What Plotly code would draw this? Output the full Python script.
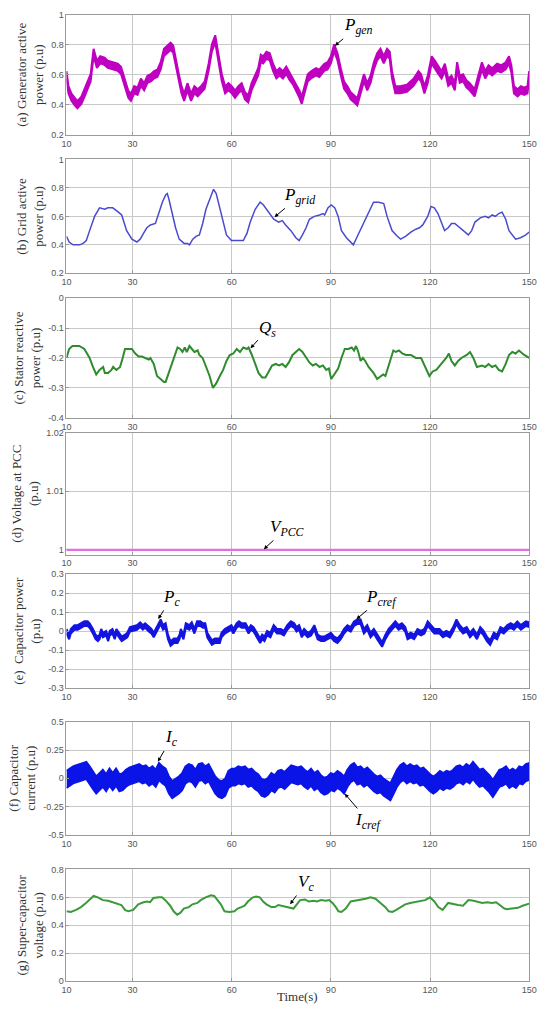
import plotly.graph_objects as go

# ---------------- data ----------------
x_ticks = [10, 30, 60, 90, 120, 150]

p_gen = [(10, 0.60), (10.6, 0.50), (11.5, 0.45), (12.5, 0.42), (13.3, 0.40), (14.5, 0.43), (15.5, 0.48),
         (16.5, 0.53), (17.3, 0.58), (18.2, 0.75), (19.2, 0.67), (20.2, 0.70), (21.5, 0.69), (22.5, 0.67),
         (24, 0.66), (25.5, 0.65), (26.5, 0.63), (27.5, 0.55), (28.7, 0.47), (29.5, 0.45), (30.5, 0.50),
         (31.5, 0.49), (32.5, 0.55), (33.5, 0.52), (34.5, 0.57), (35.5, 0.58), (36.5, 0.60), (37.5, 0.61),
         (38.5, 0.66), (39.5, 0.75), (40.5, 0.77), (41.5, 0.79), (42.3, 0.77), (43, 0.68), (44, 0.58),
         (44.8, 0.50), (45.6, 0.45), (46.6, 0.52), (47.7, 0.45), (48.7, 0.50), (49.7, 0.48), (50.7, 0.50),
         (51.8, 0.53), (53, 0.65), (54, 0.78), (55, 0.84), (56, 0.72), (57, 0.58), (58, 0.50), (59, 0.52),
         (60, 0.50), (61, 0.47), (62, 0.50), (63, 0.52), (64, 0.46), (65, 0.44), (66, 0.52), (67, 0.57),
         (68, 0.62), (68.8, 0.71), (69.5, 0.70), (70.5, 0.73), (71.5, 0.72), (72.5, 0.65), (73.5, 0.60),
         (74.5, 0.62), (75.5, 0.60), (76.5, 0.63), (77.5, 0.59), (78.5, 0.56), (79.5, 0.52), (80.5, 0.47),
         (81.2, 0.43), (82, 0.50), (83, 0.58), (84, 0.60), (85.5, 0.62), (86.5, 0.61), (88, 0.65),
         (89, 0.66), (90, 0.70), (91, 0.78), (92, 0.72), (93, 0.62), (94, 0.53), (95, 0.50), (96, 0.46),
         (97, 0.44), (98, 0.42), (99, 0.50), (100, 0.58), (101, 0.52), (102, 0.57), (103, 0.66),
         (104, 0.72), (105, 0.75), (106, 0.70), (107, 0.75), (107.8, 0.73), (108.5, 0.60), (109.5, 0.50),
         (111, 0.50), (113, 0.51), (115, 0.55), (116.5, 0.60), (117.3, 0.58), (118.3, 0.50), (119.3, 0.57),
         (120.5, 0.70), (121.5, 0.67), (122.5, 0.63), (123.5, 0.60), (124.5, 0.65), (125.5, 0.55),
         (126.5, 0.57), (127.5, 0.52), (128.2, 0.66), (129, 0.57), (130, 0.58), (131, 0.54), (132, 0.52),
         (133.5, 0.48), (134.7, 0.58), (135.7, 0.66), (136.7, 0.60), (137.7, 0.64), (138.8, 0.62),
         (140.3, 0.65), (141.5, 0.64), (142.9, 0.66), (143.9, 0.70), (144.6, 0.64), (145.4, 0.50),
         (146.5, 0.48), (147.5, 0.50), (148.5, 0.49), (149.5, 0.50), (150, 0.60)]

p_grid = [(10, 0.46), (10.8, 0.42), (12, 0.40), (14, 0.40), (15, 0.41), (16, 0.43), (17, 0.50), (18.5, 0.60),
          (20, 0.66), (21.6, 0.65), (22.5, 0.66), (24, 0.66), (25.7, 0.63), (26.7, 0.61), (28.2, 0.50),
          (29.8, 0.44), (31.3, 0.42), (32.3, 0.44), (33.3, 0.48), (34.3, 0.52), (35.4, 0.54), (36.9, 0.55),
          (37.9, 0.62), (39, 0.70), (40, 0.75), (40.5, 0.76), (41, 0.72), (42, 0.62), (43, 0.52), (44.1, 0.44),
          (45.6, 0.41), (46.6, 0.41), (47.2, 0.40), (48.2, 0.44), (49.2, 0.46), (50.2, 0.47), (51.2, 0.55),
          (52.2, 0.65), (53.8, 0.74), (54.5, 0.79), (55.3, 0.76), (56.3, 0.66), (57.4, 0.55), (58.4, 0.47),
          (59.9, 0.43), (62, 0.43), (63.5, 0.43), (64.6, 0.48), (65.6, 0.56), (67.1, 0.65), (68.6, 0.70),
          (69.6, 0.68), (71.2, 0.63), (72.7, 0.58), (74.2, 0.56), (75.3, 0.57), (76.3, 0.54), (77.9, 0.50),
          (79.4, 0.45), (80.4, 0.43), (81.4, 0.47), (82.5, 0.52), (83.5, 0.58), (85, 0.60), (86.6, 0.61),
          (87.6, 0.62), (88.1, 0.61), (89.1, 0.66), (90.1, 0.68), (91.2, 0.66), (92.2, 0.60), (93.2, 0.50),
          (94.7, 0.45), (95.8, 0.42), (96.8, 0.40), (97.8, 0.45), (98.8, 0.50), (99.9, 0.55), (100.9, 0.60),
          (101.9, 0.66), (102.9, 0.70), (104.5, 0.70), (106, 0.69), (107, 0.60), (108.5, 0.50), (110.1, 0.46),
          (111.1, 0.44), (112.6, 0.46), (114.2, 0.49), (115.7, 0.51), (116.8, 0.52), (117.8, 0.54),
          (119.3, 0.60), (120.3, 0.67), (121.3, 0.66), (122.4, 0.62), (123.4, 0.56), (124.4, 0.50),
          (125.5, 0.52), (126.5, 0.55), (127.5, 0.55), (128.5, 0.53), (130, 0.50), (131.6, 0.47),
          (132.6, 0.50), (133.6, 0.56), (135.2, 0.59), (136.7, 0.60), (137.7, 0.59), (138.8, 0.61),
          (139.8, 0.60), (140.8, 0.62), (141.8, 0.63), (142.9, 0.58), (143.9, 0.50), (144.9, 0.47),
          (145.9, 0.44), (147.4, 0.45), (149, 0.47), (150, 0.49)]

q_s = [(10, -0.20), (10.8, -0.17), (11.8, -0.16), (13.9, -0.16), (15.4, -0.17), (17, -0.20), (18, -0.23),
       (19, -0.255), (20, -0.24), (21.1, -0.23), (21.6, -0.25), (22.6, -0.25), (23.6, -0.24), (24.1, -0.23),
       (25.1, -0.24), (26.2, -0.23), (27, -0.20), (27.7, -0.17), (28.7, -0.17), (29.8, -0.17),
       (30.8, -0.185), (31.8, -0.195), (32.8, -0.195), (33.8, -0.20), (34.9, -0.205), (35.4, -0.20),
       (36.4, -0.22), (37.4, -0.26), (38.5, -0.27), (39.5, -0.28), (40, -0.28), (41, -0.25), (42, -0.22),
       (42.5, -0.20), (43.6, -0.165), (44.4, -0.17), (45.1, -0.18), (45.8, -0.165), (46.4, -0.18),
       (47.2, -0.16), (48, -0.17), (48.7, -0.18), (49.7, -0.175), (50.2, -0.19), (51.2, -0.20),
       (52.3, -0.23), (53.3, -0.26), (54.3, -0.30), (55.3, -0.285), (56.4, -0.26), (57.4, -0.24),
       (58.4, -0.21), (59.4, -0.19), (60.5, -0.185), (61.5, -0.17), (62.5, -0.18), (63.5, -0.165),
       (64.6, -0.17), (65.1, -0.165), (66.1, -0.19), (67.1, -0.22), (68.1, -0.25), (69.2, -0.265),
       (70.2, -0.265), (71.2, -0.245), (72.2, -0.225), (73.3, -0.22), (74.3, -0.225), (75.3, -0.22),
       (76.3, -0.23), (77.3, -0.215), (78.4, -0.19), (79.4, -0.18), (80.4, -0.17), (81.4, -0.18),
       (82.5, -0.20), (83.5, -0.215), (84.5, -0.225), (85.5, -0.22), (86.6, -0.23), (87.6, -0.225),
       (88.6, -0.24), (89.4, -0.235), (90.1, -0.27), (91.2, -0.25), (92.2, -0.235), (93.2, -0.20),
       (94.2, -0.17), (95.3, -0.17), (96.3, -0.165), (97, -0.175), (97.6, -0.16), (98.3, -0.18),
       (99, -0.21), (99.7, -0.20), (100.4, -0.21), (101.4, -0.23), (102.9, -0.25), (104, -0.27),
       (105, -0.26), (105.8, -0.255), (106.5, -0.26), (108.1, -0.20), (108.9, -0.175), (109.6, -0.18),
       (110.6, -0.175), (111.6, -0.185), (112.7, -0.19), (114.2, -0.19), (115.7, -0.20), (117.3, -0.20),
       (118.8, -0.235), (119.8, -0.26), (120.8, -0.245), (121.9, -0.24), (123.4, -0.22), (124.9, -0.20),
       (125.7, -0.185), (126.5, -0.21), (127.5, -0.225), (128.5, -0.21), (129.5, -0.20), (131.1, -0.19),
       (132.1, -0.18), (133.1, -0.20), (134.2, -0.23), (135.7, -0.225), (136.7, -0.23), (137.7, -0.22),
       (138.8, -0.23), (139.8, -0.225), (140.8, -0.24), (141.8, -0.245), (142.9, -0.22), (143.9, -0.19),
       (144.9, -0.18), (145.9, -0.185), (146.9, -0.175), (148.5, -0.19), (150, -0.20)]

v_pcc = [(10, 1.0), (150, 1.0)]

p_c = [(10, 0.0), (10.8, -0.03), (11.3, 0.0), (12.4, 0.02), (13.4, 0.02), (14.4, 0.03), (15.4, 0.04),
       (16.4, 0.04), (17, 0.03), (18, 0.0), (18.8, -0.03), (19.5, -0.04), (20, -0.03), (20.5, 0.0),
       (21, -0.02), (22, -0.01), (22.6, -0.04), (23.1, -0.01), (23.9, 0.0), (24.6, -0.03), (25.1, 0.0),
       (25.9, -0.02), (26.7, -0.04), (27.7, -0.03), (28.4, -0.02), (29.2, 0.01), (30.2, 0.015),
       (31.3, 0.02), (32.3, 0.035), (33.1, 0.02), (33.8, 0.03), (34.9, 0.01), (35.7, 0.0), (36.4, -0.02),
       (37.1, 0.0), (37.6, 0.02), (38.5, 0.05), (39.2, 0.02), (40, 0.03), (40.7, -0.03), (41.5, -0.065),
       (42.5, -0.05), (43.6, -0.05), (44.2, -0.03), (44.6, 0.0), (45.4, -0.03), (46.1, 0.03), (47.2, 0.02),
       (47.9, 0.035), (48.7, 0.0), (49.5, 0.04), (50.5, 0.04), (51.3, 0.03), (52, 0.03), (52.6, -0.02),
       (53.3, -0.04), (54, -0.06), (54.9, -0.05), (56.4, -0.05), (56.9, -0.02), (57.9, 0.0), (58.9, 0.01),
       (59.9, 0.02), (60.5, 0.0), (61.5, 0.03), (62.2, 0.04), (63, 0.03), (64.2, 0.03), (65.1, 0.0),
       (65.8, 0.02), (66.6, 0.01), (67.6, -0.02), (68.6, -0.05), (69.2, -0.03), (69.9, -0.04),
       (70.7, -0.01), (71.7, -0.02), (72.7, 0.02), (73.7, 0.0), (74.8, 0.0), (75.8, -0.01), (76.8, 0.02),
       (77.9, 0.04), (78.9, 0.03), (79.6, 0.01), (80.4, 0.02), (81.2, -0.02), (81.9, 0.0), (83, -0.02),
       (84, -0.01), (85, 0.02), (86, -0.03), (87, -0.04), (88, -0.04), (89.1, -0.03), (90, -0.02),
       (91, -0.04), (92, -0.05), (93, -0.03), (94, 0.0), (95, 0.02), (96, 0.01), (97, 0.04), (98, 0.05),
       (99, 0.05), (100, 0.0), (101, 0.02), (102, -0.02), (103, 0.0), (104, -0.03), (105.5, -0.07),
       (106.5, -0.03), (107.5, 0.0), (108.5, 0.02), (109.5, 0.04), (110.5, 0.02), (111.5, 0.03),
       (112.5, 0.01), (113.2, -0.03), (114.2, -0.02), (115.2, -0.03), (116.2, 0.0), (117.3, -0.01),
       (118.3, 0.0), (119.3, 0.04), (120.3, 0.02), (121.3, 0.0), (122.9, 0.0), (123.9, -0.02),
       (124.9, -0.01), (126, -0.02), (127, 0.01), (128, 0.05), (129, 0.02), (130, 0.0), (131.1, 0.01),
       (132.1, -0.02), (133.1, 0.0), (134.2, -0.03), (135.2, 0.01), (136.2, -0.01), (137.2, -0.04),
       (138.2, -0.06), (139.3, -0.02), (140.3, -0.03), (141.3, 0.01), (142.3, 0.0), (143.4, 0.02),
       (144.4, 0.03), (145.4, 0.02), (146.4, 0.04), (147.5, 0.02), (149, 0.04), (150, 0.035)]

i_c = [(10, -0.01), (11, 0.01), (12, 0.03), (13, 0.04), (14, 0.05), (15, 0.06), (16, 0.07), (17, 0.03),
       (18, -0.02), (19, -0.06), (20, -0.03), (21, 0.0), (22, -0.04), (23, 0.01), (24, -0.03), (25, 0.01),
       (26, -0.04), (27, -0.03), (28, 0.0), (29, 0.02), (30, 0.03), (31, 0.04), (32, 0.05), (33, 0.03),
       (34, 0.04), (35, 0.01), (36, 0.03), (37, 0.0), (38, 0.06), (39, 0.03), (40, 0.01), (41, -0.06),
       (42, -0.1), (43, -0.08), (44, -0.06), (45, -0.03), (46, 0.03), (47, 0.05), (48, 0.04), (49, 0.0),
       (50, 0.05), (51, 0.06), (52, 0.03), (53, 0.05), (54, -0.01), (55, -0.06), (56, -0.09), (57, -0.1),
       (58, -0.08), (59, -0.01), (60, 0.01), (61, 0.01), (62, 0.03), (63, 0.02), (64, 0.03), (65, 0.0),
       (66, 0.01), (67, -0.02), (68, -0.04), (69, -0.08), (70, -0.09), (71, -0.07), (72, -0.03),
       (73, -0.05), (74, -0.01), (75, 0.0), (76, -0.02), (77, 0.01), (78, 0.04), (79, 0.03), (80, 0.02),
       (81, 0.03), (82, 0.0), (83, -0.02), (84, 0.01), (85, -0.03), (86, -0.01), (87, -0.05), (88, -0.07),
       (89, -0.06), (90, -0.03), (91, -0.04), (92, -0.01), (93, -0.03), (94, -0.06), (95, 0.0), (96, 0.04),
       (97, 0.06), (98, 0.02), (99, 0.03), (100, 0.0), (101, 0.02), (102, -0.01), (103, -0.04),
       (104, -0.06), (105, -0.05), (106, -0.08), (107, -0.1), (108, -0.12), (109, -0.06), (110, 0.0),
       (111, 0.04), (112, 0.06), (113, 0.03), (114, 0.05), (115, 0.03), (116, 0.04), (117, 0.01),
       (118, 0.02), (119, -0.01), (120, -0.04), (121, -0.06), (122, -0.04), (123, -0.01), (124, -0.03),
       (125, -0.01), (126, -0.02), (127, 0.0), (128, 0.03), (129, 0.04), (130, 0.02), (131, 0.05),
       (132, 0.03), (133, 0.07), (134, 0.03), (135, 0.0), (136, 0.01), (137, -0.02), (138, -0.05),
       (139, -0.09), (140, -0.04), (141, 0.0), (142, 0.01), (143, 0.03), (144, -0.01), (145, 0.01),
       (146, -0.01), (147, 0.03), (148, 0.02), (149, 0.05), (150, 0.06)]

v_c = [(10, 0.50), (11.3, 0.495), (12.9, 0.51), (14.4, 0.53), (15.9, 0.56), (17.4, 0.59), (18.2, 0.61),
       (19.5, 0.60), (21, 0.58), (22.6, 0.575), (24.1, 0.565), (25.6, 0.555), (26.6, 0.545), (27.7, 0.51),
       (28.7, 0.50), (30.2, 0.51), (31.7, 0.55), (33.3, 0.565), (34.3, 0.57), (35.3, 0.565), (36.3, 0.595),
       (37.9, 0.60), (38.9, 0.60), (39.9, 0.58), (41.4, 0.54), (42.4, 0.50), (43.5, 0.475), (44.5, 0.49),
       (45.5, 0.52), (47, 0.53), (48.1, 0.55), (49.6, 0.56), (50.6, 0.58), (52.1, 0.60), (53.7, 0.615),
       (54.7, 0.61), (55.7, 0.58), (56.7, 0.55), (57.8, 0.50), (59.3, 0.495), (60.8, 0.50), (61.8, 0.52),
       (62.9, 0.53), (63.9, 0.54), (64.9, 0.57), (66.4, 0.60), (67.4, 0.605), (68.5, 0.60), (69.5, 0.57),
       (70.5, 0.55), (72, 0.53), (73.1, 0.53), (74.1, 0.545), (75.1, 0.54), (76.1, 0.535), (77.7, 0.525),
       (78.7, 0.52), (79.7, 0.55), (80.7, 0.58), (82.2, 0.585), (83.3, 0.57), (84.8, 0.575), (85.8, 0.57),
       (87, 0.58), (88.5, 0.575), (89.5, 0.58), (90.5, 0.56), (91.5, 0.53), (92.3, 0.50), (93.2, 0.495),
       (94.5, 0.52), (96, 0.57), (97.5, 0.575), (99, 0.585), (100.5, 0.59), (102, 0.60), (103.5, 0.59),
       (105, 0.56), (106.5, 0.53), (107.5, 0.50), (108.6, 0.495), (109.8, 0.51), (111, 0.53), (112.5, 0.55),
       (114, 0.56), (115.5, 0.565), (117, 0.57), (118.5, 0.58), (120, 0.60), (121.3, 0.57), (122.5, 0.53),
       (123.8, 0.51), (125.5, 0.56), (127.2, 0.55), (128.5, 0.545), (130, 0.54), (131.6, 0.58),
       (133.2, 0.575), (134.5, 0.565), (135.8, 0.56), (137.3, 0.565), (138.7, 0.56), (140, 0.565),
       (141.5, 0.54), (142.5, 0.52), (143.3, 0.515), (145, 0.52), (146.6, 0.525), (148, 0.54), (150, 0.555)]

# ---------------- figure ----------------
W, H = 544, 1010
# plot-area pixel rows (top, bottom) for each panel
rows = [(10, 131), (156, 271), (296, 417), (432, 555), (575, 690), (724, 838), (873, 986)]

# ripple: vertical half-thickness of the band drawn around the trace (None = plain line)
panels = [
    dict(data=p_gen, color="#c000c0", width=2, ripple=0.024, rng=[0.2, 1.0], tv=[0.2, 0.4, 0.6, 0.8, 1.0],
         tt=["0.2", "0.4", "0.6", "0.8", "1"], title="(a) Generator active<br>power (p.u)"),
    dict(data=p_grid, color="#4a4ad0", width=1.5, ripple=None, rng=[0.2, 1.0], tv=[0.2, 0.4, 0.6, 0.8, 1.0],
         tt=["0.2", "0.4", "0.6", "0.8", "1"], title="(b) Grid active<br>power (p.u)"),
    dict(data=q_s, color="#2e8b2e", width=2, ripple=None, rng=[-0.4, 0.0], tv=[-0.4, -0.3, -0.2, -0.1, 0.0],
         tt=["-0.4", "-0.3", "-0.2", "-0.1", "0"], title="(c) Stator reactive<br>power (p.u)"),
    dict(data=v_pcc, color="#e070e0", width=2.2, ripple=None, rng=[0.9992, 1.02], tv=[1.0, 1.01, 1.02],
         tt=["1", "1.01", "1.02"], title="(d) Voltage at PCC<br>(p.u)"),
    dict(data=p_c, color="#1414e0", width=2, ripple=0.012, rng=[-0.3, 0.3],
         tv=[-0.3, -0.2, -0.1, 0, 0.1, 0.2, 0.3],
         tt=["-0.3", "-0.2", "-0.1", "0", "0.1", "0.2", "0.3"], title="(e)  Capacitor power<br>(p.u)"),
    dict(data=i_c, color="#0a14e6", width=2, ripple=0.075, rng=[-0.5, 0.5], tv=[-0.5, -0.25, 0, 0.25, 0.5],
         tt=["-0.5", "-0.25", "0", "0.25", "0.5"], title="(f) Capacitor<br>current (p.u)"),
    dict(data=v_c, color="#3a9a3a", width=2, ripple=None, rng=[0.0, 0.8], tv=[0.0, 0.2, 0.4, 0.6, 0.8],
         tt=["0", "0.2", "0.4", "0.6", "0.8"], title="(g) Super-capacitor<br>voltage (p.u)"),
]

fig = go.Figure()
layout = dict(
    width=W, height=H, paper_bgcolor="white", plot_bgcolor="white", showlegend=False,
    margin=dict(l=0, r=0, t=0, b=0),
)

L, R = 63, 537
tick_font = dict(family="Liberation Sans, Arial", size=9, color="#555")
title_font = dict(family="Liberation Serif, Times New Roman", size=13, color="#333")

for i, p in enumerate(panels):
    n = "" if i == 0 else str(i + 1)
    top, bot = rows[i]
    xs = [d[0] for d in p["data"]]
    ys = [d[1] for d in p["data"]]
    if p["ripple"]:
        h = p["ripple"]
        fig.add_trace(go.Scatter(
            x=xs + xs[::-1], y=[v + h for v in ys] + [v - h for v in ys[::-1]],
            mode="lines", fill="toself", fillcolor=p["color"], xaxis="x" + n, yaxis="y" + n,
            line=dict(color=p["color"], width=p["width"]), hoverinfo="skip"))
    else:
        fig.add_trace(go.Scatter(x=xs, y=ys, mode="lines", xaxis="x" + n, yaxis="y" + n,
                                 line=dict(color=p["color"], width=p["width"]), hoverinfo="skip"))
    layout["xaxis" + n] = dict(
        domain=[L / W, R / W], range=[10, 150], anchor="y" + n,
        tickvals=x_ticks, ticktext=[str(v) for v in x_ticks], ticklabeloverflow="allow",
        showgrid=True, gridcolor="#c8c8c8", gridwidth=1,
        showline=True, linecolor="#9a9a9a", linewidth=1, mirror=True,
        ticks="inside", ticklen=3, tickcolor="#9a9a9a", tickfont=tick_font,
        zeroline=False,
    )
    layout["yaxis" + n] = dict(
        domain=[1 - bot / H, 1 - top / H], range=p["rng"], anchor="x" + n,
        tickvals=p["tv"], ticktext=p["tt"], ticklabeloverflow="allow",
        showgrid=True, gridcolor="#c8c8c8", gridwidth=1,
        showline=True, linecolor="#9a9a9a", linewidth=1, mirror=True,
        ticks="inside", ticklen=3, tickcolor="#9a9a9a", tickfont=tick_font,
        zeroline=False,
        title=dict(text=p["title"], font=title_font, standoff=4),
    )

fig.update_layout(**layout)

# x-axis title of the bottom panel
fig.add_annotation(text="Time(s)", xref="x7 domain", yref="paper", x=0.5, y=1 - 1001 / H,
                   xanchor="center", yanchor="middle", showarrow=False, font=title_font)

lab_font = dict(family="Liberation Serif, Times New Roman", size=17, color="black")


def label(xref, yref, x, y, text, ax, ay):
    fig.add_annotation(x=x, y=y, xref=xref, yref=yref, text=text, showarrow=True,
                       arrowhead=2, arrowsize=0.8, arrowwidth=1, arrowcolor="black",
                       ax=ax, ay=ay, font=lab_font, standoff=1)


label("x", "y", 91, 0.79, "<i>P</i><sub><i>gen</i></sub>", 24, -20)
label("x2", "y2", 72.7, 0.59, "<i>P</i><sub><i>grid</i></sub>", 26, -22)
label("x3", "y3", 65.5, -0.17, "<i>Q</i><sub><i>s</i></sub>", 18, -20)
label("x4", "y4", 69.5, 1.0, "<i>V</i><sub><i>PCC</i></sub>", 24, -22)
label("x5", "y5", 37.6, 0.06, "<i>P</i><sub><i>c</i></sub>", 14, -22)
label("x5", "y5", 97.5, 0.06, "<i>P</i><sub><i>cref</i></sub>", 26, -22)
label("x6", "y6", 37.5, 0.14, "<i>I</i><sub><i>c</i></sub>", 14, -24)
label("x6", "y6", 94, -0.13, "<i>I</i><sub><i>cref</i></sub>", 24, 28)
label("x7", "y7", 77.5, 0.545, "<i>V</i><sub><i>c</i></sub>", 16, -22)

fig.write_html("out.html", config={"displayModeBar": False},
               post_script="document.body.style.margin='0';")
